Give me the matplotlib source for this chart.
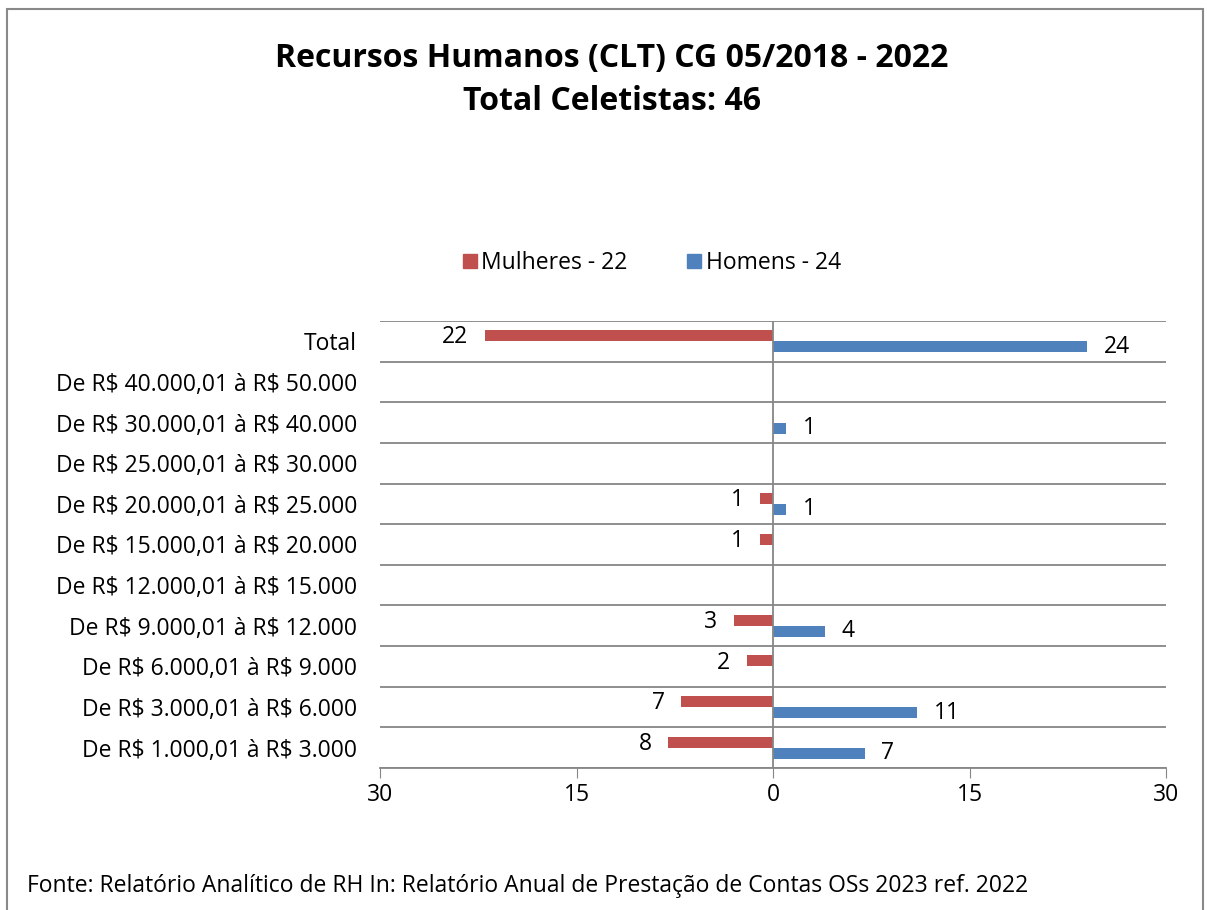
import matplotlib
matplotlib.use("Agg")
import matplotlib.pyplot as plt
from matplotlib.patches import Rectangle, Patch
import numpy as np

plt.rcParams['font.family'] = ['Open Sans', 'DejaVu Sans']
plt.rcParams['text.parse_math'] = False

categories = ["De R$ 1.000,01 à R$ 3.000", "De R$ 3.000,01 à R$ 6.000", "De R$ 6.000,01 à R$ 9.000",
              "De R$ 9.000,01 à R$ 12.000", "De R$ 12.000,01 à R$ 15.000", "De R$ 15.000,01 à R$ 20.000",
              "De R$ 20.000,01 à R$ 25.000", "De R$ 25.000,01 à R$ 30.000", "De R$ 30.000,01 à R$ 40.000",
              "De R$ 40.000,01 à R$ 50.000", "Total"]
mulheres = [8, 7, 2, 3, 0, 1, 1, 0, 0, 0, 22]
homens = [7, 11, 0, 4, 0, 0, 1, 0, 1, 0, 24]
xticks = [-30, -15, 0, 15, 30]
xticklabels = ["30", "15", "0", "15", "30"]

RED = "#C0504D"
BLUE = "#4F81BD"
GRID = "#868686"
FS = 16.5

W, H = 1207, 910
fig = plt.figure(figsize=(W / 100, H / 100), dpi=100)
ax = fig.add_axes([380 / W, 1 - 768 / H, (1166 - 380) / W, (768 - 321) / H])

y = np.arange(len(categories))
bh = 0.27
ax.barh(y + bh / 2, [-v for v in mulheres], height=bh, color=RED, label="Mulheres - 22")
ax.barh(y - bh / 2, homens, height=bh, color=BLUE, label="Homens - 24")

for i, v in enumerate(mulheres):
    if v:
        ax.text(-v - 1.25, y[i] + bh / 2 - 0.04, str(v), ha="right", va="center", fontsize=FS)
for i, v in enumerate(homens):
    if v:
        ax.text(v + 1.25, y[i] - bh / 2, str(v), ha="left", va="center", fontsize=FS)

ax.set_xlim(-30, 30)
ax.set_ylim(-0.5, len(categories) - 0.5)
ax.set_xticks(xticks)
ax.set_xticklabels(xticklabels, fontsize=FS)
ax.set_yticks(y)
ax.set_yticklabels(categories, fontsize=FS)
ax.tick_params(axis="y", length=0, pad=16.5)
ax.tick_params(axis="x", length=7, color=GRID, pad=4)
for b in np.arange(-0.5, len(categories), 1.0):
    ax.axhline(b, color=GRID, lw=1.3, zorder=0)
ax.axvline(0, color=GRID, lw=1.3, zorder=3)
for s in ["top", "right", "left"]:
    ax.spines[s].set_visible(False)
ax.spines["bottom"].set_color(GRID)
ax.spines["bottom"].set_linewidth(1.3)

fig.text(612 / W, 1 - 59 / H, "Recursos Humanos (CLT) CG 05/2018 - 2022", ha="center", va="center",
         fontsize=23, fontweight="bold")
fig.text(612 / W, 1 - 102 / H, "Total Celetistas: 46", ha="center", va="center",
         fontsize=23, fontweight="bold")

handles = [Patch(color=RED), Patch(color=BLUE)]
fig.legend(handles, ["Mulheres - 22", "Homens - 24"], loc="center", bbox_to_anchor=(652 / W, 1 - 263 / H),
           ncol=2, frameon=False, fontsize=FS, handlelength=0.6, handleheight=0.6,
           handletextpad=0.2, columnspacing=2.6)

fig.text(27 / W, 1 - 886 / H, "Fonte: Relatório Analítico de RH In: Relatório Anual de Prestação de Contas OSs 2023 ref. 2022",
         ha="left", va="center", fontsize=FS)

fig.patches.append(Rectangle((7 / W, -0.05), (1203 - 7) / W, 1.05 - 9 / H, transform=fig.transFigure,
                             fill=False, edgecolor="#898989", lw=1.5))

fig.savefig("out.png", dpi=100, facecolor="white")
